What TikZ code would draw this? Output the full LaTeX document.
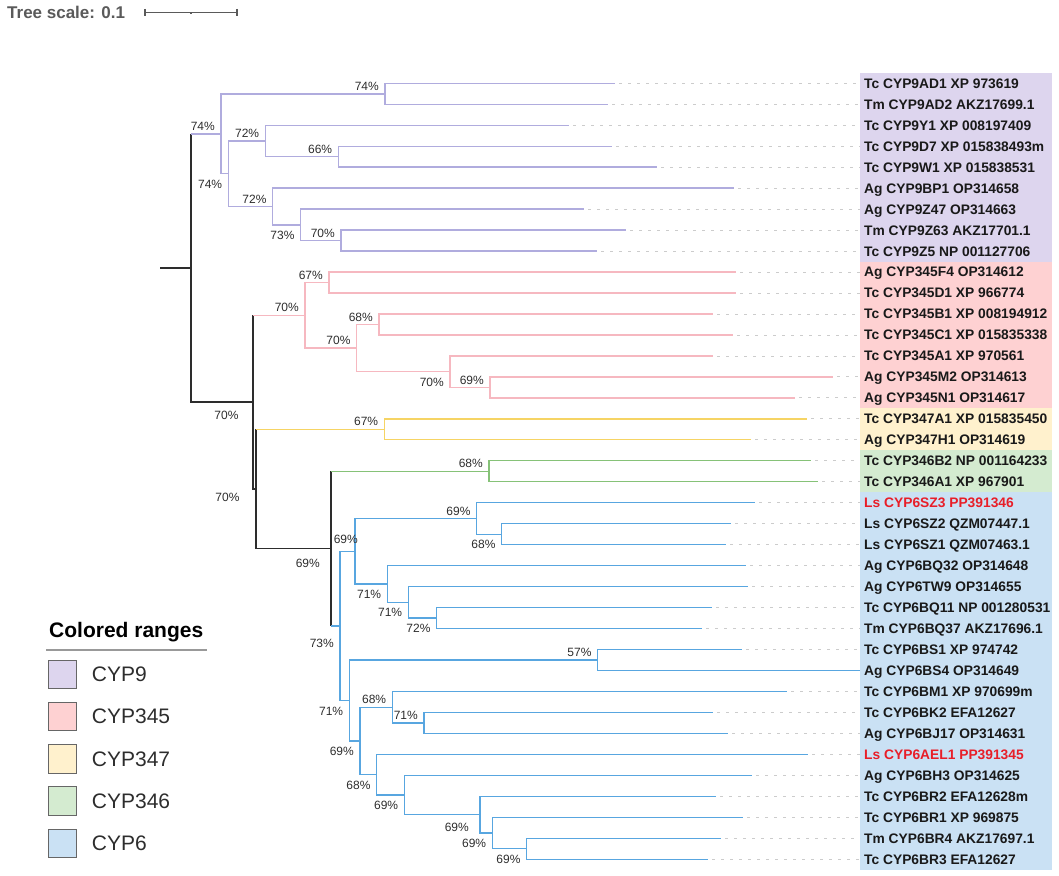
\documentclass[tikz,border=0pt]{standalone}
\usepackage{fontspec}
\setmainfont{Liberation Sans}

\definecolor{stemcol}{RGB}{45,45,45}
\definecolor{txtgray}{RGB}{45,45,45}
\definecolor{scalegray}{RGB}{90,90,90}
\definecolor{labred}{RGB}{232,30,40}
\definecolor{line9}{RGB}{176,172,222}
\definecolor{linep}{RGB}{246,184,192}
\definecolor{liney}{RGB}{246,212,100}
\definecolor{lineg}{RGB}{134,194,120}
\definecolor{lineb}{RGB}{88,166,224}
\definecolor{band9}{RGB}{221,213,238}
\definecolor{bandp}{RGB}{254,209,210}
\definecolor{bandy}{RGB}{255,241,205}
\definecolor{bandg}{RGB}{212,235,208}
\definecolor{bandb}{RGB}{202,225,244}

\tikzset{
  stem/.style={stemcol, line width=1.6pt},
  br9/.style={line9, line width=1.4pt},
  brp/.style={linep, line width=1.4pt},
  bry/.style={liney, line width=1.4pt},
  brg/.style={lineg, line width=1.4pt},
  brb/.style={lineb, line width=1.4pt},
  guide/.style={gray!40, line width=0.8pt, dash pattern=on 3pt off 6pt},
  bs/.style={font=\fontsize{12}{14}\selectfont, text=txtgray, inner sep=0pt},
  bsup/.style={bs, anchor=south east, xshift=-6pt, yshift=3pt},
  bsdn/.style={bs, anchor=north east, xshift=-6pt, yshift=-6pt},
  lab/.style={font=\fontsize{13.8}{16}\selectfont\bfseries, text=black!90, inner sep=0pt,
    anchor=west, text height=9.9pt, text depth=0pt},
  labred/.style={lab, text=labred},
  legtxt/.style={font=\fontsize{21}{24}\selectfont, text=txtgray, inner sep=0pt, anchor=west},
}

\begin{document}
\begin{tikzpicture}[x=1pt, y=-1pt]
  \useasboundingbox (0,0) rectangle (1059,875);

  % tree scale
  \node[font=\fontsize{17}{20}\selectfont\bfseries, text=scalegray, inner sep=0pt, anchor=west] (scale) at (7,12) {Tree scale: 0.1};
  \draw[scalegray, line width=1.2pt] (145,9) -- (145,16.5) (145,12.7) -- (237,12.7) (237,9) -- (237,16.5) (191,12.7) -- (191,14.5);

  % colored ranges
  \fill[band9] (860,73) rectangle (1052,261.5);
  \fill[bandp] (860,261.5) rectangle (1052,408.3);
  \fill[bandy] (860,408.3) rectangle (1052,450.3);
  \fill[bandg] (860,450.3) rectangle (1052,492.2);
  \fill[bandb] (860,492.2) rectangle (1052,869.7);

  % leaves
  \foreach \i/\x/\st/\t in {
    1/615/lab/{Tc CYP9AD1 XP 973619}, 2/608/lab/{Tm CYP9AD2 AKZ17699.1},
    3/569/lab/{Tc CYP9Y1 XP 008197409}, 4/612/lab/{Tc CYP9D7 XP 015838493m},
    5/657/lab/{Tc CYP9W1 XP 015838531}, 6/734/lab/{Ag CYP9BP1 OP314658},
    7/584/lab/{Ag CYP9Z47 OP314663}, 8/626/lab/{Tm CYP9Z63 AKZ17701.1},
    9/597/lab/{Tc CYP9Z5 NP 001127706}, 10/736/lab/{Ag CYP345F4 OP314612},
    11/736/lab/{Tc CYP345D1 XP 966774}, 12/713/lab/{Tc CYP345B1 XP 008194912},
    13/733/lab/{Tc CYP345C1 XP 015835338}, 14/713/lab/{Tc CYP345A1 XP 970561},
    15/833/lab/{Ag CYP345M2 OP314613}, 16/795/lab/{Ag CYP345N1 OP314617},
    17/807/lab/{Tc CYP347A1 XP 015835450}, 18/751/lab/{Ag CYP347H1 OP314619},
    19/811/lab/{Tc CYP346B2 NP 001164233}, 20/818/lab/{Tc CYP346A1 XP 967901},
    21/755/labred/{Ls CYP6SZ3 PP391346}, 22/731/lab/{Ls CYP6SZ2 QZM07447.1},
    23/726/lab/{Ls CYP6SZ1 QZM07463.1}, 24/746/lab/{Ag CYP6BQ32 OP314648},
    25/748/lab/{Ag CYP6TW9 OP314655}, 26/712/lab/{Tc CYP6BQ11 NP 001280531},
    27/702/lab/{Tm CYP6BQ37 AKZ17696.1}, 28/742/lab/{Tc CYP6BS1 XP 974742},
    29/860/lab/{Ag CYP6BS4 OP314649}, 30/787/lab/{Tc CYP6BM1 XP 970699m},
    31/713/lab/{Tc CYP6BK2 EFA12627}, 32/728/lab/{Ag CYP6BJ17 OP314631},
    33/808/labred/{Ls CYP6AEL1 PP391345}, 34/752/lab/{Ag CYP6BH3 OP314625},
    35/716/lab/{Tc CYP6BR2 EFA12628m}, 36/743/lab/{Tc CYP6BR1 XP 969875},
    37/721/lab/{Tm CYP6BR4 AKZ17697.1}, 38/708/lab/{Tc CYP6BR3 EFA12627}} {
    \coordinate (l\i) at (\x, {83.3+20.97*(\i-1)});
    \node[\st] (t\i) at (864, {83.3+20.97*(\i-1)}) {\t};
    \ifnum\i=29\else
      \draw[guide] ([xshift=4pt]l\i) -- ([xshift=-4pt]t\i.west);
    \fi
  }

  % inner nodes
  \coordinate (base) at (160,267.9);
  \coordinate (root) at (190.7,267.9);
  \coordinate (ka) at (252.7,402.1);
  \coordinate (kb) at (255.7,488.9);
  \coordinate (kc) at (331,548.5);
  \coordinate (q1) at (385,93.8);
  \coordinate (q2) at (265.3,141);
  \coordinate (q3) at (338.3,156.7);
  \coordinate (q4) at (272.7,206.5);
  \coordinate (q5) at (300.7,224.9);
  \coordinate (q6) at (341,240.6);
  \coordinate (q7) at (228.3,173.7);
  \coordinate (q8) at (221,133.8);
  \coordinate (p1) at (329,282.5);
  \coordinate (p2) at (379,324.5);
  \coordinate (p3) at (490,387.4);
  \coordinate (p4) at (450,371.6);
  \coordinate (p5) at (356.7,348.1);
  \coordinate (p6) at (305,315.3);
  \coordinate (y1) at (384.3,429.3);
  \coordinate (g1) at (489,471.3);
  \coordinate (b1) at (501.7,534.2);
  \coordinate (b2) at (476.7,518.4);
  \coordinate (b3) at (436.7,618);
  \coordinate (b4) at (408.3,602.3);
  \coordinate (b5) at (387.3,584);
  \coordinate (b6) at (355,551.2);
  \coordinate (b7) at (597.7,660);
  \coordinate (b8) at (424,722.9);
  \coordinate (b9) at (392.3,707.2);
  \coordinate (b10) at (526.7,848.7);
  \coordinate (b11) at (492.3,833);
  \coordinate (b12) at (480,814.6);
  \coordinate (b13) at (404.3,795);
  \coordinate (b14) at (376.7,774.7);
  \coordinate (b15) at (360,740.9);
  \coordinate (b16) at (349.3,700.5);
  \coordinate (b17) at (340,625.8);

  % backbone
  \draw[stem] (base) -- (root);
  \draw[stem] (root) |- (ka);
  \draw[stem] (root) -- (root |- q8);
  \draw[br9] (root |- q8) -- (q8);
  \draw[stem] (ka) |- (kb);
  \draw[stem] (ka) -- (ka |- p6);
  \draw[brp] (ka |- p6) -- (p6);
  \draw[stem] (kb) |- (kc);
  \draw[stem] (kb) -- (kb |- y1);
  \draw[bry] (kb |- y1) -- (y1);
  \draw[stem] (kc) -- (kc |- g1);
  \draw[brg] (kc |- g1) -- (g1);
  \draw[stem] (kc) -- (kc |- b17);
  \draw[brb] (kc |- b17) -- (b17);

  % clades
  \foreach \p/\c in {q8/q1, q8/q7, q1/l1, q1/l2, q7/q2, q7/q4, q2/l3, q2/q3, q3/l4, q3/l5,
      q4/l6, q4/q5, q5/l7, q5/q6, q6/l8, q6/l9}
    \draw[br9] (\p) |- (\c);
  \foreach \p/\c in {p6/p1, p6/p5, p1/l10, p1/l11, p5/p2, p5/p4, p2/l12, p2/l13, p4/l14,
      p4/p3, p3/l15, p3/l16}
    \draw[brp] (\p) |- (\c);
  \foreach \p/\c in {y1/l17, y1/l18}
    \draw[bry] (\p) |- (\c);
  \foreach \p/\c in {g1/l19, g1/l20}
    \draw[brg] (\p) |- (\c);
  \foreach \p/\c in {b17/b6, b17/b16, b6/b2, b6/b5, b2/l21, b2/b1, b1/l22, b1/l23, b5/l24,
      b5/b4, b4/l25, b4/b3, b3/l26, b3/l27, b16/b7, b16/b15, b7/l28, b7/l29, b15/b9,
      b15/b14, b9/l30, b9/b8, b8/l31, b8/l32, b14/l33, b14/b13, b13/l34, b13/b12,
      b12/l35, b12/b11, b11/l36, b11/b10, b10/l37, b10/l38}
    \draw[brb] (\p) |- (\c);

  % bootstrap values
  \foreach \n/\v in {q8/74, q1/74, q2/72, q3/66, q4/72, q6/70, p6/70, p1/67, p5/70, p2/68,
      p3/69, y1/67, g1/68, b2/69, b7/57, b9/68, b8/71}
    \node[bsup] (s\n) at (\n) {\v\%};
  \foreach \n/\v in {q7/74, q5/73, p4/70, b1/68, b5/71, b4/71, b3/72, b16/71, b15/69,
      b14/68, b13/69, b11/69, b10/69}
    \node[bsdn] (s\n) at (\n) {\v\%};
  \node[bsdn, xshift=-8pt, yshift=-3pt] (ska) at (ka) {70\%};
  \node[bsdn, xshift=-10pt, yshift=2pt] (skb) at (kb) {70\%};
  \node[bsdn, xshift=-5pt, yshift=-4pt] (skc) at (kc) {69\%};
  \node[bsdn, yshift=-7pt] (sb17) at (b17) {73\%};
  \node[bsup, xshift=9pt, yshift=4pt] (sb6) at (b6) {69\%};
  \node[bsdn, xshift=-5pt, yshift=-2pt] (sb12) at (b12) {69\%};

  % legend
  \node[font=\fontsize{21}{24}\selectfont\bfseries, inner sep=0pt, anchor=west] (legtitle) at (49,631.7) {Colored ranges};
  \draw[gray!80, line width=1.1pt] (46,650) -- (207,650);
  \foreach \k/\c/\t in {0/band9/CYP9, 1/bandp/CYP345, 2/bandy/CYP347, 3/bandg/CYP346, 4/bandb/CYP6} {
    \filldraw[fill=\c, draw=gray!80!black, line width=0.9pt] (48.3,{660+42.3*\k}) rectangle ++(28.4,28.4);
    \node[legtxt] (leg\k) at (91.7,{674.2+42.3*\k}) {\t};
  }
\end{tikzpicture}
\end{document}
